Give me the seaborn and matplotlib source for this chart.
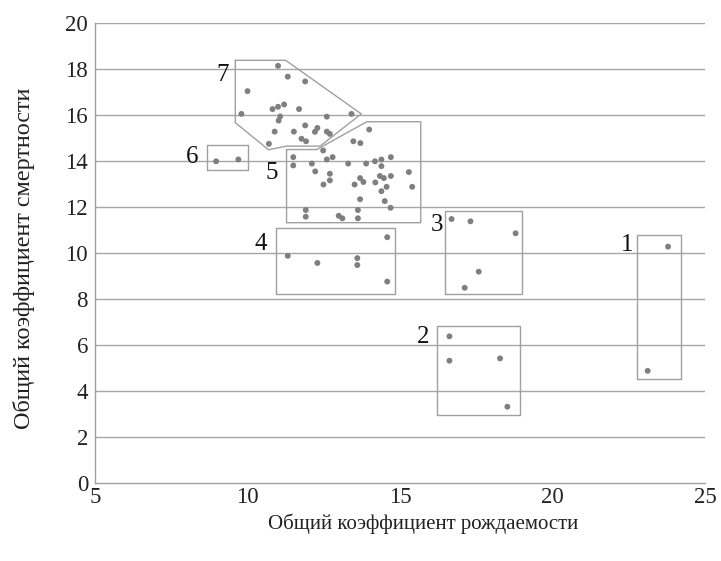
import matplotlib
matplotlib.use("Agg")
import matplotlib.pyplot as plt
import seaborn as sns
import pandas as pd

# birth rate (x) and death rate (y) per region
birth = [
    # group 7
    11.00, 11.32, 11.89, 10.00, 10.82, 11.00, 11.20, 11.69, 9.80, 11.07, 11.02,
    12.60, 13.41, 11.89, 12.29, 12.21, 10.89, 11.52, 12.60, 12.70, 10.70,
    11.77, 11.92, 13.47, 13.70, 12.48,
    # group 6
    8.97, 9.70,
    # group 5
    13.99, 11.50, 12.60, 12.79, 11.50, 12.11, 13.30, 13.89, 14.18, 14.39,
    14.70, 14.39, 12.22, 12.70, 13.69, 13.80, 14.34, 14.47, 14.70, 15.29,
    12.49, 12.70, 13.51, 14.19, 14.56, 15.40, 14.39, 13.69, 14.50, 14.69,
    11.91, 11.91, 12.99, 13.11, 13.62, 13.62,
    # group 4
    14.58, 11.32, 12.29, 13.60, 13.60, 14.58,
    # group 3
    16.69, 17.31, 18.79, 17.58, 17.12,
    # group 2
    16.62, 16.62, 18.28, 18.52,
    # group 1
    23.79, 23.12,
]
death = [
    18.15, 17.68, 17.47, 17.05, 16.27, 16.37, 16.47, 16.27, 16.06, 15.95, 15.77,
    15.94, 16.06, 15.56, 15.45, 15.28, 15.29, 15.29, 15.29, 15.19, 14.76,
    14.98, 14.87, 14.87, 14.79, 14.47,
    14.00, 14.08,
    15.38, 14.18, 14.08, 14.18, 13.82, 13.90, 13.90, 13.90, 14.00, 14.08,
    14.18, 13.79, 13.56, 13.46, 13.27, 13.10, 13.36, 13.27, 13.36, 13.53,
    12.99, 13.17, 12.99, 13.08, 12.89, 12.89, 12.70, 12.35, 12.27, 11.98,
    11.88, 11.59, 11.63, 11.52, 11.88, 11.52,
    10.70, 9.89, 9.58, 9.79, 9.49, 8.77,
    11.49, 11.39, 10.87, 9.20, 8.50,
    6.39, 5.33, 5.43, 3.33,
    10.29, 4.89,
]

# cluster outlines (polygon vertices in data units) and labels
group_names = ["1", "2", "3", "4", "5", "6", "7"]
outline_x = [
    [22.76, 24.21, 24.21, 22.76, 22.76],
    [16.22, 18.93, 18.93, 16.22, 16.22],
    [16.49, 19.01, 19.01, 16.49, 16.49],
    [10.93, 14.85, 14.85, 10.93, 10.93],
    [11.28, 12.27, 13.91, 15.68, 15.68, 11.28, 11.28],
    [8.68, 10.03, 10.03, 8.68, 8.68],
    [9.60, 11.25, 13.73, 12.38, 11.28, 10.69, 9.60, 9.60],
]
outline_y = [
    [4.54, 4.54, 10.80, 10.80, 4.54],
    [2.95, 2.95, 6.84, 6.84, 2.95],
    [8.25, 8.25, 11.84, 11.84, 8.25],
    [8.25, 8.25, 11.09, 11.09, 8.25],
    [14.51, 14.51, 15.72, 15.72, 11.33, 11.33, 14.51],
    [13.60, 13.60, 14.72, 14.72, 13.60],
    [18.39, 18.39, 16.06, 14.66, 14.66, 14.50, 15.68, 18.39],
]
label_x = [22.44, 15.75, 16.21, 10.45, 10.81, 8.18, 9.17]
label_y = [10.37, 6.35, 11.23, 10.41, 13.48, 14.17, 17.76]

x_ticks = [5, 10, 15, 20, 25]
y_ticks = [0, 2, 4, 6, 8, 10, 12, 14, 16, 18, 20]

sns.set_theme(style="white")
plt.rcParams["font.family"] = ["Liberation Serif", "DejaVu Serif"]

df = pd.DataFrame({"birth": birth, "death": death})

fig = plt.figure(figsize=(7.21, 5.61), dpi=100)
ax = fig.add_axes([0.1318, 0.1385, 0.846, 0.820])

for yt in y_ticks[1:]:
    ax.axhline(yt, color="#a6a6a6", lw=1.0, zorder=0)

for xs, ys in zip(outline_x, outline_y):
    ax.plot(xs, ys, color="#a0a0a0", lw=1.0, zorder=1)

sns.scatterplot(data=df, x="birth", y="death", ax=ax, color="#7f7f7f",
                s=18, edgecolor="none", zorder=3)

for name, lx, ly in zip(group_names, label_x, label_y):
    ax.text(lx, ly, name, fontsize=18, ha="center", va="center", color="#111111")

ax.set_xlim(5, 25)
ax.set_ylim(0, 20)
ax.set_xticks(x_ticks)
ax.set_yticks(y_ticks)
ax.tick_params(axis="both", labelsize=16.5, colors="#222222")
ax.tick_params(axis="x", direction="in", length=5, color="#a0a0a0", width=1, pad=3)
ax.tick_params(axis="y", length=0, pad=5)
for side in ["top", "right"]:
    ax.spines[side].set_visible(False)
for side in ["left", "bottom"]:
    ax.spines[side].set_color("#a0a0a0")
    ax.spines[side].set_linewidth(1.0)

ax.set_xlabel("Общий коэффициент рождаемости", fontsize=15, color="#222222")
ax.set_ylabel("Общий коэффициент смертности", fontsize=17.4, color="#222222")
ax.xaxis.set_label_coords(0.538, -0.066)
ax.yaxis.set_label_coords(-0.099, 0.488)

fig.savefig("out.png", dpi=100)
